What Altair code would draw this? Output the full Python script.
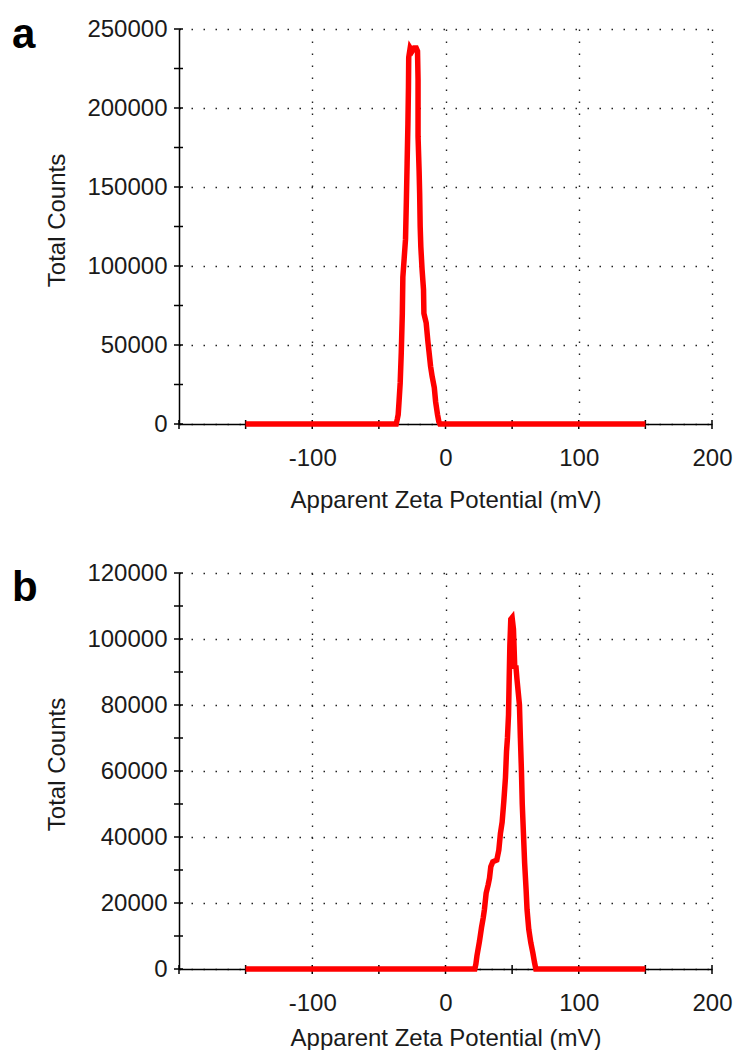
import altair as alt
import pandas as pd

FONT = "Liberation Sans"

# Panel a: apparent zeta potential (mV) vs total counts
A_MV = [-150, -37.0, -36.2, -35.5, -34.8, -34.0, -33.2, -32.4, -32.0, -31.0, -30.0, -29.4,
        -28.8, -28.2, -27.8, -27.6, -26.5, -25.0, -23.5, -22.0, -21.0, -20.6, -20.6, -19.8,
        -19.4, -19.0, -18.5, -17.6, -16.5, -16.2, -14.5, -13.2, -12.4, -11.2, -10.0, -8.4,
        -7.4, -6.0, -5.0, -4.2, 150]
A_COUNTS = [0, 0, 3000, 6000, 15000, 26000, 45000, 70000, 93000, 105000, 117000, 140000,
            165000, 190000, 213000, 232000, 238000, 236000, 238000, 238000, 236000, 218000, 182000, 160000,
            146000, 125000, 112000, 98000, 85000, 70000, 64000, 52000, 46000, 36500, 30000, 23000,
            14000, 6000, 1500, 0, 0]

# Panel b
B_MV = [-150, 22.0, 22.8, 23.6, 25.5, 27.0, 28.3, 29.2, 30.5, 32.0, 33.0, 34.0, 35.5, 38.5,
        40.0, 41.2, 42.5, 43.8, 45.0, 45.8, 46.5, 47.3, 47.8, 48.3, 49.0, 50.0, 51.0, 51.5,
        52.0, 52.8, 53.6, 55.5, 56.2, 57.0, 57.6, 58.5, 59.4, 60.5, 61.2, 62.5, 64.0, 65.5,
        66.8, 67.8, 150]
B_COUNTS = [0, 0, 1500, 4000, 8400, 12500, 15500, 18000, 23000, 25500, 27500, 31000, 32500, 33000,
            36000, 41000, 44500, 51000, 58000, 66000, 70000, 77000, 88000, 98000, 106000, 106500, 103000, 97000,
            91000, 92000, 88000, 80000, 70000, 60000, 50000, 41000, 32000, 24000, 18000, 12000, 8000, 5000,
            2000, 0, 0]

X_LABEL_VALUES = [-100, 0, 100, 200]
X_TICK_VALUES = [-200, -150, -100, -50, 0, 50, 100, 150, 200]
A_Y_LABEL_VALUES = [0, 50000, 100000, 150000, 200000, 250000]
A_Y_TICK_VALUES = [0, 25000, 50000, 75000, 100000, 125000, 150000, 175000, 200000, 225000, 250000]
B_Y_LABEL_VALUES = [0, 20000, 40000, 60000, 80000, 100000, 120000]
B_Y_TICK_VALUES = [0, 10000, 20000, 30000, 40000, 50000, 60000, 70000, 80000, 90000, 100000,
                   110000, 120000]

TEXT_COLOR = "#1a1a1a"
GRID_DASH = [1.5, 10.5]
HYPHEN_LABEL = "datum.value < 0 ? '-' + format(-datum.value, 'd') : format(datum.value, 'd')"


def panel(letter, letter_y, mv, counts, ymax, ylabels, yticks, height, xtitle_y):
    df = pd.DataFrame({"mv": mv, "counts": counts, "order": list(range(len(mv)))})
    x_scale = alt.Scale(domain=[-200, 200], nice=False, zero=False)
    y_scale = alt.Scale(domain=[0, ymax], nice=False)
    x_axis = alt.Axis(
        values=X_LABEL_VALUES, title="Apparent Zeta Potential (mV)", labelExpr=HYPHEN_LABEL,
        grid=True, gridDash=GRID_DASH, gridColor="#222222", gridWidth=1.4,
        ticks=False, tickSize=0, domainColor="black", domainWidth=1.5,
        labelFont=FONT, labelFontSize=24, labelColor=TEXT_COLOR,
        labelBaseline="alphabetic", labelPadding=41, labelFlush=False,
        titleFont=FONT, titleFontSize=24, titleFontWeight="normal", titleColor=TEXT_COLOR,
        titleY=xtitle_y, titleBaseline="alphabetic",
    )
    y_axis = alt.Axis(
        values=ylabels, title="Total Counts", format="d",
        grid=True, gridDash=GRID_DASH, gridColor="#222222", gridWidth=1.4,
        ticks=False, tickSize=0, domainColor="black", domainWidth=1.5,
        labelFont=FONT, labelFontSize=24, labelColor=TEXT_COLOR, labelPadding=12,
        labelFlush=False,
        titleFont=FONT, titleFontSize=24, titleFontWeight="normal", titleColor=TEXT_COLOR,
        titleX=-115, titleY=191, titleBaseline="alphabetic",
    )
    xt = alt.Chart(pd.DataFrame({"t": X_TICK_VALUES})).mark_rule(
        color="black", strokeWidth=1.5
    ).encode(
        x=alt.X("t:Q", scale=x_scale, axis=x_axis),
        y=alt.value(height + 5), y2=alt.value(height - 4),
    )
    yt = alt.Chart(pd.DataFrame({"t": yticks})).mark_rule(
        color="black", strokeWidth=1.5
    ).encode(
        y=alt.Y("t:Q", scale=y_scale, axis=y_axis),
        x=alt.value(-5), x2=alt.value(4),
    )
    line = alt.Chart(df).mark_line(
        color="#ff0000", strokeWidth=5.5, strokeJoin="miter", strokeCap="butt"
    ).encode(
        x=alt.X("mv:Q", scale=x_scale, axis=x_axis),
        y=alt.Y("counts:Q", scale=y_scale, axis=y_axis),
        order="order:Q",
    )
    lab = alt.Chart(pd.DataFrame({"label": [letter]})).mark_text(
        font=FONT, fontSize=42, fontWeight="bold", align="left",
        baseline="alphabetic", color="black"
    ).encode(
        text="label:N", x=alt.value(-167), y=alt.value(letter_y),
    )
    return alt.layer(xt, yt, line, lab).properties(width=533, height=height)


pa = panel("a", 19, A_MV, A_COUNTS, 250000, A_Y_LABEL_VALUES, A_Y_TICK_VALUES, 395, 83)
pb = panel("b", 28, B_MV, B_COUNTS, 120000, B_Y_LABEL_VALUES, B_Y_TICK_VALUES, 396, 76)

chart = alt.vconcat(pa, pb, spacing=149, bounds="flush").properties(
    padding={"left": 4, "top": 6, "right": 0, "bottom": 0},
    background="white",
).configure_view(stroke=None)

chart.save("out.html", embed_options={"renderer": "svg", "actions": False})
